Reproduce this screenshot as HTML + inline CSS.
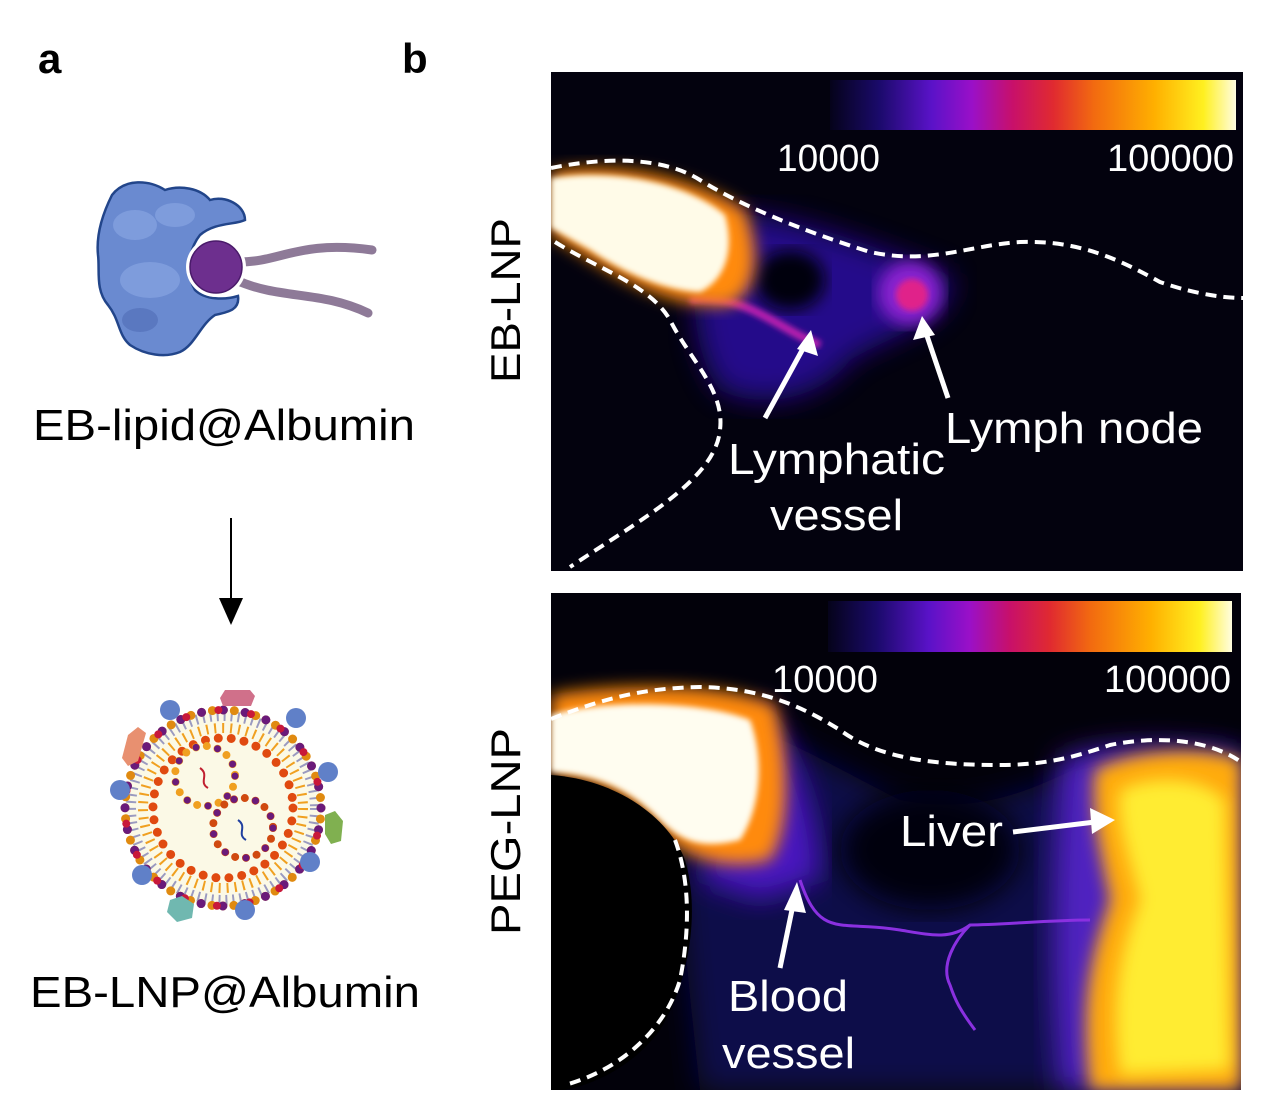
<!DOCTYPE html>
<html><head><style>
html,body{margin:0;padding:0;background:#fff;}
svg{display:block;}
text{font-family:"Liberation Sans",Arial,sans-serif;}
</style></head><body>
<svg width="1280" height="1108" viewBox="0 0 1280 1108" xmlns="http://www.w3.org/2000/svg">
<defs>
<linearGradient id="cb" x1="0" x2="1" y1="0" y2="0">
<stop offset="0" stop-color="#05031a"/>
<stop offset="0.12" stop-color="#1a0a6a"/>
<stop offset="0.25" stop-color="#5a12c8"/>
<stop offset="0.35" stop-color="#9a10c8"/>
<stop offset="0.45" stop-color="#c8106a"/>
<stop offset="0.55" stop-color="#e02a30"/>
<stop offset="0.65" stop-color="#f26a10"/>
<stop offset="0.8" stop-color="#ffb000"/>
<stop offset="0.92" stop-color="#fff020"/>
<stop offset="1" stop-color="#fffde0"/>
</linearGradient>
<filter id="b8"><feGaussianBlur stdDeviation="8"/></filter>
<filter id="b14"><feGaussianBlur stdDeviation="14"/></filter>
<filter id="b4"><feGaussianBlur stdDeviation="3"/></filter>
<clipPath id="c1"><rect x="551" y="72" width="692" height="499"/></clipPath>
<clipPath id="c2"><rect x="551" y="593" width="690" height="497"/></clipPath>
</defs>

<text x="38" y="73" font-size="42" font-weight="bold">a</text>
<text x="402" y="73" font-size="42" font-weight="bold">b</text>

<g>
<path d="M112,195 C125,178 150,180 165,190 C180,185 200,188 210,200 C225,195 245,205 245,220 C235,225 215,222 200,235 C188,250 186,275 195,290 C205,300 225,300 238,296 C240,310 228,312 215,315 C200,325 195,345 180,352 C165,358 145,355 130,345 C118,335 120,320 108,305 C95,290 100,270 98,255 C96,235 102,215 112,195 Z" fill="#6a8ad0" stroke="#22458a" stroke-width="2.5"/>
<ellipse cx="135" cy="225" rx="22" ry="15" fill="#7e9cdc"/>
<ellipse cx="150" cy="280" rx="30" ry="18" fill="#7e9cdc"/>
<ellipse cx="140" cy="320" rx="18" ry="12" fill="#5a78c0"/>
<ellipse cx="175" cy="215" rx="20" ry="12" fill="#7e9cdc"/>
<path d="M240,262 C280,262 300,240 372,250" stroke="#8e7a98" stroke-width="9" fill="none" stroke-linecap="round"/>
<path d="M236,280 C280,300 320,290 368,313" stroke="#8e7a98" stroke-width="9" fill="none" stroke-linecap="round"/>
<circle cx="216" cy="267" r="30" fill="#fff"/>
<circle cx="216" cy="267" r="26" fill="#6d2f8e" stroke="#4a1a6a" stroke-width="1.5"/>
</g>
<text x="33" y="440" font-size="44" textLength="382" lengthAdjust="spacingAndGlyphs">EB-lipid@Albumin</text>
<line x1="231" y1="518" x2="231" y2="600" stroke="#000" stroke-width="2"/>
<path d="M219,598 L243,598 L231,625 Z" fill="#000"/>

<g>
<circle cx="223" cy="808" r="98" fill="#fbf9e6"/>
<circle cx="223" cy="808" r="92" fill="none" stroke="#9a9ac0" stroke-width="10" stroke-dasharray="2 5"/>
<circle cx="223" cy="808" r="80" fill="none" stroke="#f0a020" stroke-width="10" stroke-dasharray="2 6"/>
<circle cx="223" cy="808" r="98" fill="none" stroke="#e08a10" stroke-width="9" stroke-dasharray="0 11" stroke-linecap="round"/>
<circle cx="223" cy="808" r="98" fill="none" stroke="#6a1a7a" stroke-width="9" stroke-dasharray="0 22" stroke-linecap="round"/>
<circle cx="223" cy="808" r="98" fill="none" stroke="#c8183a" stroke-width="8" stroke-dasharray="0 33" stroke-dashoffset="5" stroke-linecap="round"/>
<circle cx="223" cy="808" r="70" fill="none" stroke="#e04a10" stroke-width="9" stroke-dasharray="0 13" stroke-linecap="round"/>
<circle cx="205" cy="776" r="30" fill="none" stroke="#f0a020" stroke-width="8" stroke-dasharray="0 11" stroke-linecap="round"/>
<circle cx="243" cy="828" r="30" fill="none" stroke="#d04a10" stroke-width="8" stroke-dasharray="0 11" stroke-linecap="round"/>
<circle cx="205" cy="776" r="30" fill="none" stroke="#6a1a7a" stroke-width="7" stroke-dasharray="0 22" stroke-linecap="round"/>
<circle cx="243" cy="828" r="30" fill="none" stroke="#6a1a7a" stroke-width="7" stroke-dasharray="0 22" stroke-linecap="round"/>
<path d="M200,768 C210,775 198,782 208,788" stroke="#c02030" stroke-width="2" fill="none"/>
<path d="M238,820 C248,827 236,834 246,840" stroke="#2040a0" stroke-width="2" fill="none"/>
<path d="M225,690 h25 l5,6 -4,10 h-28 l-3,-8 z" fill="#d0708a"/>
<path d="M128,735 l10,-8 8,6 -8,28 -10,5 -6,-8 z" fill="#e89070"/>
<path d="M325,815 l10,-4 8,10 -2,20 -10,3 -6,-10 z" fill="#80b050"/>
<path d="M170,900 l12,-4 12,8 -2,14 -15,4 -10,-10 z" fill="#70b8b0"/>
<g fill="#6080c8">
<circle cx="170" cy="710" r="10"/><circle cx="296" cy="718" r="10"/><circle cx="120" cy="790" r="10"/>
<circle cx="328" cy="772" r="10"/><circle cx="142" cy="875" r="10"/><circle cx="310" cy="862" r="10"/><circle cx="245" cy="910" r="10"/>
</g>
</g>
<text x="30" y="1007" font-size="44" textLength="390" lengthAdjust="spacingAndGlyphs">EB-LNP@Albumin</text>

<text transform="translate(520,383) rotate(-90)" font-size="42" textLength="165" lengthAdjust="spacingAndGlyphs">EB-LNP</text>
<text transform="translate(520,935) rotate(-90)" font-size="42" textLength="207" lengthAdjust="spacingAndGlyphs">PEG-LNP</text>

<!-- Panel 1 -->
<g clip-path="url(#c1)">
<rect x="551" y="72" width="692" height="499" fill="#03020e"/>
<path d="M700,215 C780,205 880,250 950,275 C960,320 900,330 850,360 C820,400 760,410 720,390 C690,350 690,280 700,215 Z" fill="#2a0fa0" filter="url(#b14)" opacity="0.85"/>
<ellipse cx="790" cy="280" rx="35" ry="30" fill="#03020e" filter="url(#b8)"/>
<path d="M690,300 C740,290 780,330 820,345" stroke="#c020b0" stroke-width="8" fill="none" filter="url(#b4)"/>
<circle cx="910" cy="293" r="32" fill="#8a20d0" filter="url(#b8)"/>
<circle cx="912" cy="295" r="16" fill="#e0208a" filter="url(#b4)"/>
<path d="M551,172 C620,160 700,180 745,210 C760,250 760,290 730,305 C690,310 640,290 600,265 L551,235 Z" fill="#ff8a10" filter="url(#b8)"/>
<path d="M551,178 C620,168 690,185 725,215 C735,250 725,280 700,292 C660,290 620,270 590,250 L551,228 Z" fill="#fffbe8" filter="url(#b4)"/>
<rect x="830" y="80" width="406" height="50" fill="url(#cb)"/>
<text x="777" y="171" font-size="38" fill="#fff" textLength="103" lengthAdjust="spacingAndGlyphs">10000</text>
<text x="1107" y="171" font-size="38" fill="#fff" textLength="127" lengthAdjust="spacingAndGlyphs">100000</text>
<path d="M551,168 C600,158 660,155 700,180 C740,205 800,230 870,252 C930,265 970,245 1020,242 C1080,240 1120,260 1160,282 C1200,296 1230,298 1243,298" stroke="#fff" stroke-width="4" fill="none" stroke-dasharray="11 7"/>
<path d="M555,242 C600,270 650,285 670,320 C690,360 725,390 720,430 C715,480 640,520 570,567" stroke="#fff" stroke-width="4" fill="none" stroke-dasharray="11 7"/>
<line x1="765" y1="418" x2="805" y2="345" stroke="#fff" stroke-width="5"/>
<path d="M811,330 L797,349 L818,356 Z" fill="#fff"/>
<line x1="948" y1="398" x2="925" y2="330" stroke="#fff" stroke-width="5"/>
<path d="M922,316 L913,340 L935,335 Z" fill="#fff"/>
<text x="945" y="443" font-size="44" fill="#fff" textLength="258" lengthAdjust="spacingAndGlyphs">Lymph node</text>
<text x="728" y="474" font-size="44" fill="#fff" textLength="217" lengthAdjust="spacingAndGlyphs">Lymphatic</text>
<text x="770" y="530" font-size="44" fill="#fff" textLength="133" lengthAdjust="spacingAndGlyphs">vessel</text>
</g>

<!-- Panel 2 -->
<g clip-path="url(#c2)">
<rect x="551" y="593" width="690" height="497" fill="#02010a"/>
<path d="M680,710 C760,720 820,760 900,800 C1000,820 1060,770 1100,760 L1241,750 L1241,1090 L700,1090 C690,1000 680,900 680,860 Z" fill="#0e0848" filter="url(#b14)"/>
<ellipse cx="930" cy="850" rx="90" ry="60" fill="#03020e" filter="url(#b14)"/>
<path d="M760,700 C800,760 820,820 820,880 L760,900 L700,880 Z" fill="#4a18c0" filter="url(#b14)"/>
<path d="M1060,760 C1090,745 1180,740 1241,755 L1241,1090 L1060,1090 C1050,1000 1050,900 1060,760 Z" fill="#5020c0" filter="url(#b14)"/>
<path d="M1095,770 C1130,750 1200,745 1241,760 L1241,1090 L1090,1090 C1080,1000 1090,960 1110,900 C1100,850 1090,810 1095,770 Z" fill="#ffaa10" filter="url(#b8)"/>
<path d="M1120,790 C1150,775 1200,775 1225,800 L1230,1070 L1120,1075 C1110,1000 1120,950 1140,900 C1130,860 1115,820 1120,790 Z" fill="#ffec30" filter="url(#b8)"/>
<path d="M800,880 C820,940 840,920 900,930 C930,935 950,940 970,925 C1000,925 1050,920 1090,920" stroke="#8a30e0" stroke-width="3" fill="none"/>
<path d="M970,925 C955,940 940,965 950,985 C955,1000 960,1010 975,1030" stroke="#8a30e0" stroke-width="3" fill="none"/>
<path d="M551,695 C600,685 720,680 775,705 C790,760 790,830 770,860 C730,870 690,860 670,840 C640,800 600,780 551,775 Z" fill="#ff8a10" filter="url(#b8)"/>
<path d="M551,715 C600,700 700,700 750,720 C765,760 760,810 740,840 C700,850 680,840 660,820 C630,790 600,775 551,772 Z" fill="#fffdf0" filter="url(#b4)"/>
<path d="M551,775 C620,780 670,820 685,860 C700,910 690,980 660,1030 C630,1070 590,1085 565,1090 L551,1090 Z" fill="#000"/>
<rect x="828" y="601" width="404" height="51" fill="url(#cb)"/>
<text x="772" y="692" font-size="38" fill="#fff" textLength="106" lengthAdjust="spacingAndGlyphs">10000</text>
<text x="1104" y="692" font-size="38" fill="#fff" textLength="127" lengthAdjust="spacingAndGlyphs">100000</text>
<path d="M551,719 C600,700 640,688 700,687 C760,688 800,705 840,730 C880,760 940,765 1000,765 C1050,765 1080,755 1110,745 C1160,735 1210,740 1241,762" stroke="#fff" stroke-width="4" fill="none" stroke-dasharray="11 7"/>
<path d="M675,840 C690,880 690,930 680,980 C665,1030 620,1070 565,1085" stroke="#fff" stroke-width="4" fill="none" stroke-dasharray="11 7"/>
<line x1="780" y1="968" x2="793" y2="905" stroke="#fff" stroke-width="5"/>
<path d="M797,882 L784,910 L806,913 Z" fill="#fff"/>
<line x1="1013" y1="832" x2="1095" y2="822" stroke="#fff" stroke-width="5"/>
<path d="M1115,820 L1090,808 L1092,834 Z" fill="#fff"/>
<text x="900" y="846" font-size="44" fill="#fff" textLength="103" lengthAdjust="spacingAndGlyphs">Liver</text>
<text x="728" y="1011" font-size="44" fill="#fff" textLength="120" lengthAdjust="spacingAndGlyphs">Blood</text>
<text x="722" y="1068" font-size="44" fill="#fff" textLength="133" lengthAdjust="spacingAndGlyphs">vessel</text>
</g>
</svg>
</body></html>
